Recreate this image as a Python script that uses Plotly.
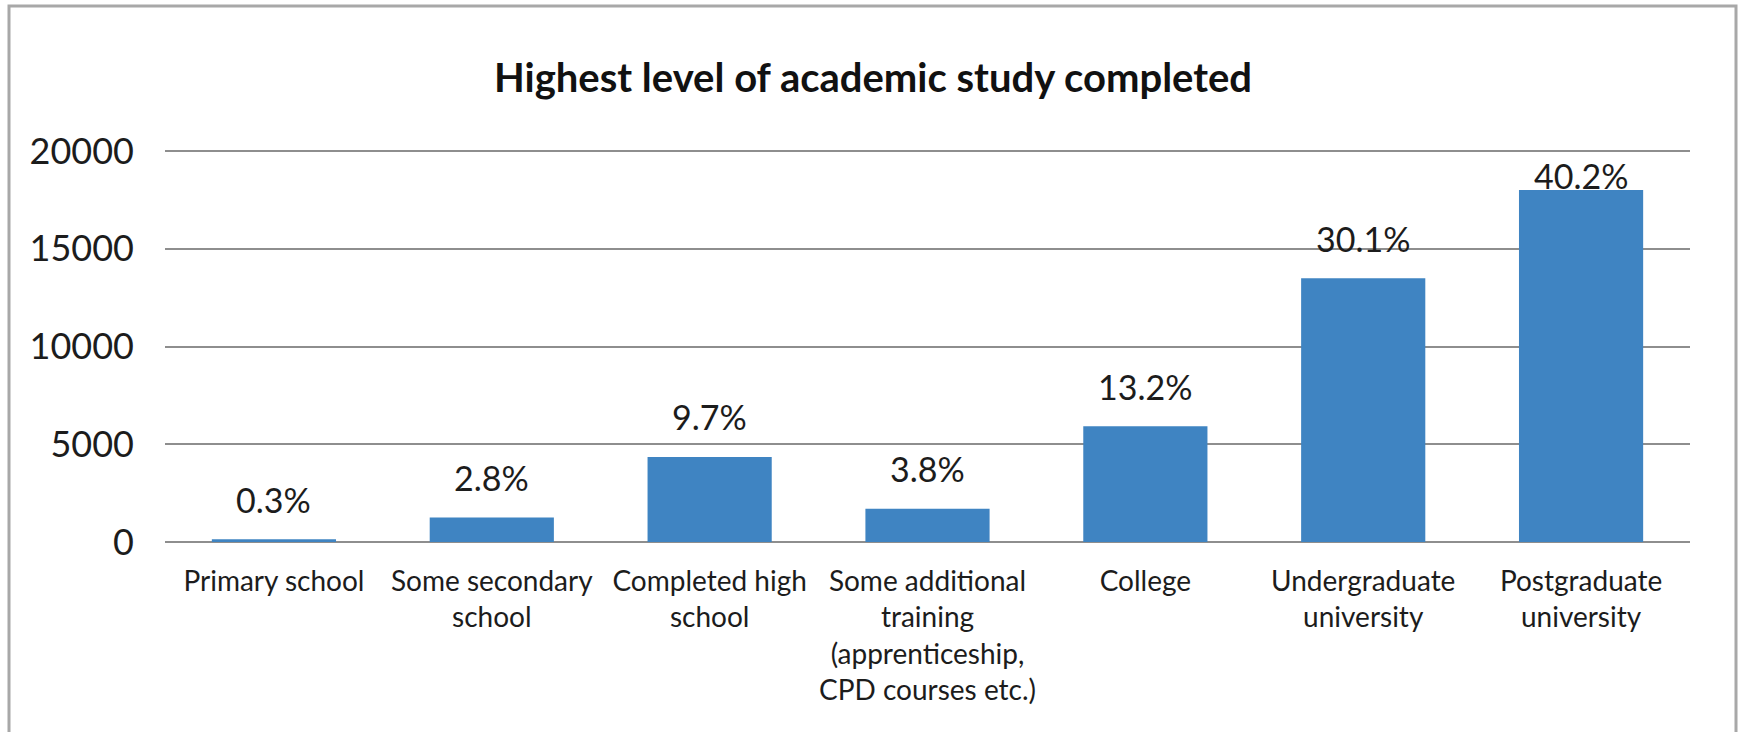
import plotly.graph_objects as go

categories = [
    "Primary school",
    "Some secondary<br>school",
    "Completed high<br>school",
    "Some additional<br>training<br>(apprenticeship,<br>CPD courses etc.)",
    "College",
    "Undergraduate<br>university",
    "Postgraduate<br>university",
]
counts = [135, 1255, 4345, 1700, 5915, 13485, 18010]
percent_labels = ["0.3%", "2.8%", "9.7%", "3.8%", "13.2%", "30.1%", "40.2%"]
y_ticks = [0, 5000, 10000, 15000, 20000]
y_tick_text = ["0", "5000", "10000", "15000", "20000"]
title_text = "Highest level of academic study completed"

W, H = 1742, 732
G_LEFT, G_RIGHT = 165, 1690   # gridline extent (px)
G_TOP, G_ZERO = 151, 542       # y px of 20000 and 0
PT = G_TOP - 3
YMAX = 20000 * (G_ZERO - PT) / (G_ZERO - G_TOP)
FONT = "Lato"
TXT = "#1c1c1c"
GRID = "#8e8e8e"


def px_x(x):
    return (x - G_LEFT) / (G_RIGHT - G_LEFT)


def px_y(y):
    return (G_ZERO - y) / (G_ZERO - PT)


fig = go.Figure()
fig.add_trace(go.Bar(
    x=categories,
    y=counts,
    marker=dict(color="#3f84c2", line=dict(width=0)),
    width=0.57,
    hoverinfo="skip",
))

# percentage labels above bars (kept inside the plot area like Excel)
label_offset = 2050
label_cap = 18750
for c, v, t in zip(categories, counts, percent_labels):
    fig.add_annotation(
        x=c, y=min(v + label_offset, label_cap), text=t, showarrow=False,
        xanchor="center", yanchor="middle",
        font=dict(family=FONT, size=34, color=TXT),
    )

# chart frame (left, top, right edges)
fx0, fx1, fy0 = 9, 1736, 6
fig.add_shape(
    type="path", xref="paper", yref="paper",
    path=(f"M {px_x(fx0)} {px_y(H + 5)} L {px_x(fx0)} {px_y(fy0)} "
          f"L {px_x(fx1)} {px_y(fy0)} L {px_x(fx1)} {px_y(H + 5)}"),
    line=dict(color="#a8a8a8", width=3),
)

fig.update_layout(
    width=W, height=H,
    margin=dict(l=G_LEFT, r=W - G_RIGHT, t=PT, b=H - G_ZERO, pad=0),
    paper_bgcolor="white", plot_bgcolor="white",
    showlegend=False,
    title=dict(
        text=f"<b>{title_text}</b>",
        x=873 / W, xanchor="center",
        y=1 - 78 / H, yanchor="middle", yref="container",
        font=dict(family=FONT, size=40, color="#111111"),
    ),
    bargap=0.43,
)
fig.update_xaxes(
    showgrid=False, showline=False, zeroline=False,
    ticks="", tickangle=0,
    tickfont=dict(family=FONT, size=28, color=TXT),
    ticklabelstandoff=20,
)
fig.update_yaxes(
    range=[0, YMAX], tickvals=y_ticks, ticktext=y_tick_text,
    showgrid=True, gridcolor=GRID, gridwidth=2,
    zeroline=True, zerolinecolor=GRID, zerolinewidth=2,
    showline=False, ticks="",
    tickfont=dict(family=FONT, size=36, color=TXT),
    ticklabelstandoff=30,
)

fig.write_html(
    "out.html",
    config={"displayModeBar": False},
    post_script="document.body.style.margin='0';document.body.style.overflow='hidden';",
)
